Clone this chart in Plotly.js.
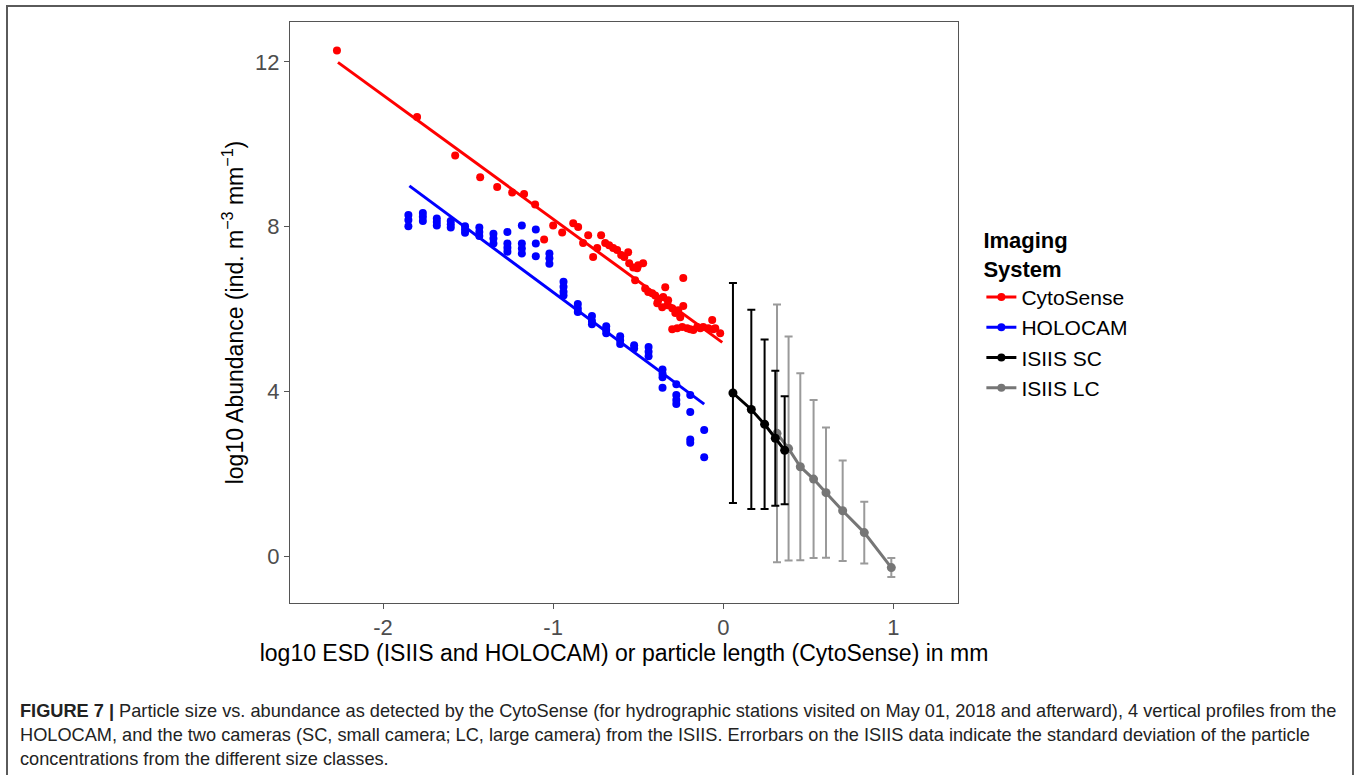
<!DOCTYPE html>
<html>
<head>
<meta charset="utf-8">
<script src="https://cdn.plot.ly/plotly-3.0.1.min.js"></script>
<style>
  html, body { margin: 0; padding: 0; background: #fff; }
  #wrap { position: relative; width: 1360px; height: 775px; overflow: hidden; }
  #chart { position: absolute; left: 0; top: 0; width: 1360px; height: 775px; }
  #frame { position: absolute; left: 6px; top: 5px; width: 1344px; height: 820px;
           border: 2px solid #5a5a5a; pointer-events: none; }
  #caption { position: absolute; left: 20px; top: 699px; width: 1330px; white-space: nowrap;
             font-family: "Liberation Sans", Arial, sans-serif; font-size: 18.2px;
             line-height: 24px; color: #222; }
  #caption b { font-weight: bold; }
</style>
</head>
<body>
<div id="wrap">
  <div id="chart"></div>
  <div id="frame"></div>
  <div id="caption"><b>FIGURE 7 |</b> Particle size vs. abundance as detected by the CytoSense (for hydrographic stations visited on May 01, 2018 and afterward), 4 vertical profiles from the<br>HOLOCAM, and the two cameras (SC, small camera; LC, large camera) from the ISIIS. Errorbars on the ISIIS data indicate the standard deviation of the particle<br>concentrations from the different size classes.</div>
</div>
<script>
// ---- CytoSense points ----
var cytoX = [-2.271,-1.80,-1.576,-1.429,-1.329,-1.241,-1.171,-1.106,-1.053,-1.0,-0.947,-0.882,-0.853,-0.824,-0.794,-0.765,-0.741,-0.718,-0.694,-0.671,-0.647,-0.624,-0.6,-0.582,-0.559,-0.553,-0.529,-0.506,-0.5,-0.471,-0.518,-0.459,-0.441,-0.418,-0.4,-0.382,-0.353,-0.341,-0.324,-0.388,-0.359,-0.329,-0.3,-0.282,-0.265,-0.235,-0.235,-0.253,-0.3,-0.271,-0.241,-0.212,-0.194,-0.176,-0.153,-0.135,-0.118,-0.088,-0.065,-0.059,-0.047,-0.018];
var cytoY = [12.28,10.66,9.73,9.20,8.96,8.83,8.79,8.54,7.69,8.03,7.86,8.08,7.99,7.60,7.79,7.26,7.48,7.79,7.60,7.55,7.48,7.43,7.31,7.26,7.38,7.11,7.01,6.99,7.06,7.11,6.70,6.50,6.41,6.38,6.33,6.21,6.29,6.53,6.21,6.14,6.04,6.09,6.02,5.90,5.97,6.07,6.75,5.80,5.51,5.53,5.56,5.53,5.51,5.49,5.56,5.53,5.56,5.53,5.73,5.51,5.53,5.41];
var cytoFitX = [-2.265, -0.006];
var cytoFitY = [11.99, 5.19];

// ---- HOLOCAM points ----
var holoX = [-1.851,-1.851,-1.851,-1.766,-1.766,-1.766,-1.684,-1.684,-1.684,-1.602,-1.602,-1.602,-1.518,-1.518,-1.518,-1.434,-1.434,-1.434,-1.351,-1.351,-1.351,-1.269,-1.269,-1.269,-1.269,-1.184,-1.184,-1.184,-1.184,-1.102,-1.102,-1.102,-1.022,-1.022,-1.022,-0.939,-0.939,-0.939,-0.939,-0.855,-0.855,-0.855,-0.772,-0.772,-0.772,-0.688,-0.688,-0.688,-0.606,-0.606,-0.606,-0.524,-0.524,-0.439,-0.439,-0.439,-0.357,-0.357,-0.357,-0.357,-0.276,-0.276,-0.276,-0.276,-0.194,-0.194,-0.194,-0.194,-0.112,-0.112];
var holoY = [8.28,8.16,8.01,8.33,8.24,8.14,8.20,8.11,8.03,8.14,8.06,7.98,8.01,7.93,7.85,7.98,7.87,7.77,7.83,7.71,7.59,7.87,7.59,7.49,7.39,8.03,7.59,7.47,7.35,7.93,7.59,7.28,7.35,7.23,7.10,6.66,6.54,6.42,6.33,6.12,6.01,5.93,5.83,5.71,5.63,5.58,5.49,5.41,5.34,5.24,5.15,5.12,5.04,5.08,4.96,4.85,4.53,4.43,4.34,4.09,4.17,3.91,3.79,3.69,3.91,3.50,2.83,2.75,3.06,2.40];
var holoFitX = [-1.845, -0.112];
var holoFitY = [8.99, 3.69];

// ---- ISIIS small camera ----
var scX = [0.057, 0.165, 0.243, 0.306, 0.361];
var scY = [3.96, 3.56, 3.20, 2.86, 2.57];
var scSD = [2.67, 2.42, 2.06, 1.64, 1.31];

// ---- ISIIS large camera ----
var lcX = [0.316, 0.384, 0.453, 0.531, 0.604, 0.702, 0.829, 0.988];
var lcY = [2.98, 2.61, 2.17, 1.87, 1.54, 1.10, 0.57, -0.28];
var lcSD = [3.13, 2.72, 2.27, 1.92, 1.58, 1.22, 0.75, 0.23];

// ---- labels ----
var legendNames = ["CytoSense", "HOLOCAM", "ISIIS SC", "ISIIS LC"];
var xTickVals = [-2, -1, 0, 1];
var xTickText = ["-2", "-1", "0", "1"];
var yTickVals = [0, 4, 8, 12];
var yTickText = ["0", "4", "8", "12"];

var RED = "#ff0000", BLUE = "#0000ff", BLACK = "#000000", GREY = "#767676", GREYBAR = "#9a9a9a";
var FONT = "Liberation Sans, Arial, sans-serif";

var traces = [
  {x: cytoFitX, y: cytoFitY, mode: "lines", line: {color: RED, width: 3}, showlegend: false, hoverinfo: "skip"},
  {x: cytoX, y: cytoY, mode: "markers", marker: {color: RED, size: 8}, showlegend: false},
  {x: holoFitX, y: holoFitY, mode: "lines", line: {color: BLUE, width: 3}, showlegend: false, hoverinfo: "skip"},
  {x: holoX, y: holoY, mode: "markers", marker: {color: BLUE, size: 8}, showlegend: false},
  {x: lcX, y: lcY, mode: "lines+markers", line: {color: GREY, width: 3}, marker: {color: GREY, size: 9},
   error_y: {type: "data", array: lcSD, visible: true, color: GREYBAR, thickness: 2, width: 4}, showlegend: false},
  {x: scX, y: scY, mode: "lines+markers", line: {color: BLACK, width: 3}, marker: {color: BLACK, size: 9},
   error_y: {type: "data", array: scSD, visible: true, color: BLACK, thickness: 2, width: 4}, showlegend: false},
  // legend entries
  {x: [null], y: [null], name: legendNames[0], mode: "lines+markers", line: {color: RED, width: 3}, marker: {color: RED, size: 8}},
  {x: [null], y: [null], name: legendNames[1], mode: "lines+markers", line: {color: BLUE, width: 3}, marker: {color: BLUE, size: 8}},
  {x: [null], y: [null], name: legendNames[2], mode: "lines+markers", line: {color: BLACK, width: 3}, marker: {color: BLACK, size: 8}},
  {x: [null], y: [null], name: legendNames[3], mode: "lines+markers", line: {color: GREY, width: 3}, marker: {color: GREY, size: 8}}
];

var layout = {
  width: 1360, height: 775,
  margin: {l: 290, r: 402, t: 22, b: 172},
  paper_bgcolor: "#ffffff", plot_bgcolor: "#ffffff",
  font: {family: FONT, color: "#000"},
  showlegend: true,
  xaxis: {
    range: [-2.547, 1.38], showgrid: false, zeroline: false,
    showline: true, mirror: true, linecolor: "#555", linewidth: 1,
    tickmode: "array", tickvals: xTickVals, ticktext: xTickText,
    ticks: "outside", ticklen: 5, tickcolor: "#555",
    tickfont: {size: 22, color: "#4d4d4d", family: FONT},
    title: {text: "log10 ESD (ISIIS and HOLOCAM) or particle length (CytoSense) in mm", font: {size: 23, color: "#000", family: FONT}, standoff: 0}
  },
  yaxis: {
    range: [-1.14, 12.97], showgrid: false, zeroline: false,
    showline: true, mirror: true, linecolor: "#555", linewidth: 1,
    tickmode: "array", tickvals: yTickVals, ticktext: yTickText,
    ticks: "outside", ticklen: 5, tickcolor: "#555",
    tickfont: {size: 22, color: "#4d4d4d", family: FONT},
    title: {text: "log10 Abundance (ind. m<sup>−3</sup> mm<sup>−1</sup>)", font: {size: 23, color: "#000", family: FONT}, standoff: 5}
  },
  legend: {
    x: 1.035, xanchor: "left", y: 0.66, yanchor: "top",
    bgcolor: "rgba(0,0,0,0)",
    font: {size: 21, color: "#000", family: FONT},
    title: {text: "<b>Imaging<br>System</b>", font: {size: 22, color: "#000", family: FONT}},
    itemwidth: 30
  }
};

Plotly.newPlot("chart", traces, layout, {displayModeBar: false, staticPlot: true});
</script>
</body>
</html>
